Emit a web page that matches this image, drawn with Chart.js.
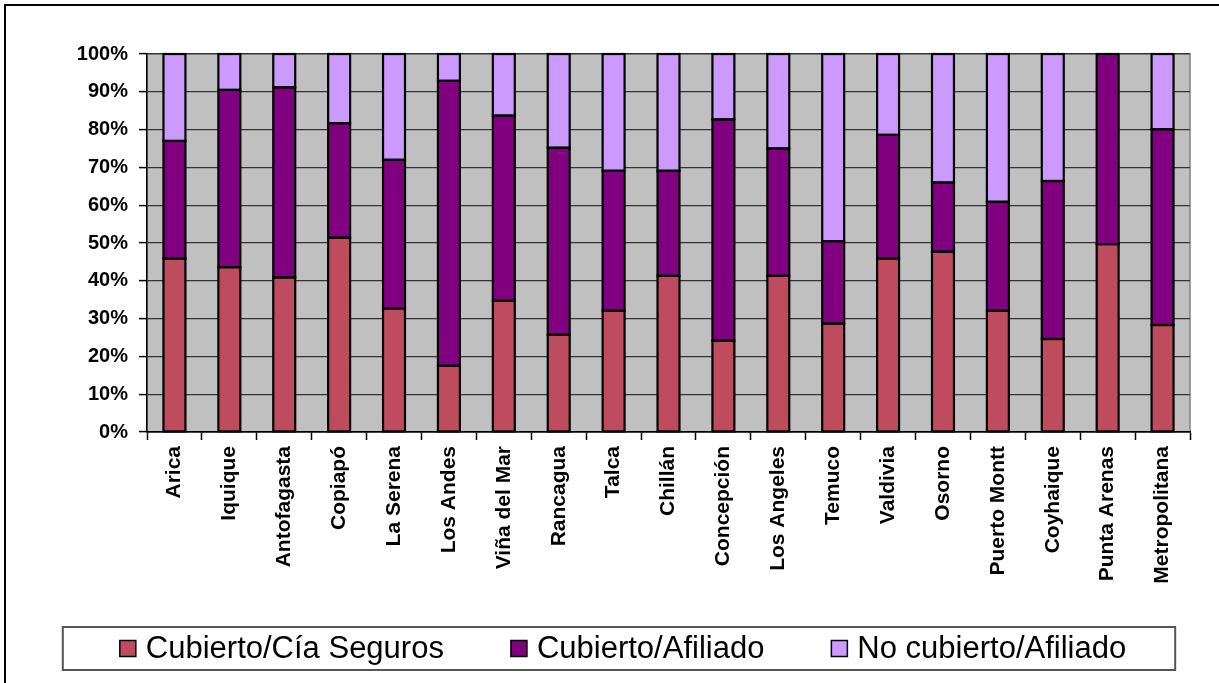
<!DOCTYPE html>
<html>
<head>
<meta charset="utf-8">
<script src="https://cdn.jsdelivr.net/npm/chart.js@4.4.1/dist/chart.umd.min.js"></script>
<style>
  html, body { margin: 0; padding: 0; background: #fff; }
  #wrap { width: 1219px; height: 683px; }
</style>
</head>
<body>
<div id="wrap"><canvas id="coberturaChart" width="1219" height="683"></canvas></div>
<script>
const ciudades = ['Arica', 'Iquique', 'Antofagasta', 'Copiapó', 'La Serena', 'Los Andes', 'Viña del Mar',
  'Rancagua', 'Talca', 'Chillán', 'Concepción', 'Los Angeles', 'Temuco', 'Valdivia', 'Osorno',
  'Puerto Montt', 'Coyhaique', 'Punta Arenas', 'Metropolitana'];

// percent of each bar
const cubiertoCia = [45.9, 43.6, 40.9, 51.4, 32.7, 17.5, 34.7, 25.7, 32.1, 41.3, 24.2, 41.3, 28.7, 45.9, 47.7, 32.1, 24.6, 49.7, 28.3];
const cubiertoAfiliado = [31.1, 46.9, 50.3, 30.3, 39.3, 75.4, 49.0, 49.5, 37.0, 27.8, 58.5, 33.7, 21.8, 32.7, 18.3, 28.8, 41.8, 50.3, 51.8];
const noCubierto = [23.0, 9.5, 8.8, 18.3, 28.0, 7.1, 16.3, 24.8, 30.9, 30.9, 17.3, 25.0, 49.5, 21.4, 34.0, 39.1, 33.6, 0.0, 19.9];

const yTicks = [0, 10, 20, 30, 40, 50, 60, 70, 80, 90, 100];

const fontFamily = '"Liberation Sans", Arial, sans-serif';

const plotBackground = {
  id: 'plotBackground',
  beforeDraw(chart) {
    const { ctx, chartArea: a } = chart;
    ctx.save();
    ctx.fillStyle = '#fff';
    ctx.fillRect(0, 0, chart.width, chart.height);
    ctx.fillStyle = '#C0C0C0';
    ctx.fillRect(a.left, a.top, a.right - a.left, a.bottom - a.top);
    ctx.strokeStyle = '#808080';
    ctx.lineWidth = 1.5;
    ctx.strokeRect(a.left, a.top, a.right - a.left, a.bottom - a.top);
    // outer frame
    ctx.strokeStyle = '#000';
    ctx.lineWidth = 2;
    ctx.beginPath();
    ctx.moveTo(5, chart.height);
    ctx.lineTo(5, 5);
    ctx.lineTo(chart.width, 5);
    ctx.stroke();
    ctx.restore();
  },
  // black outline on every segment, centred on its edges like excel does
  afterDatasetsDraw(chart) {
    const ctx = chart.ctx;
    ctx.save();
    ctx.strokeStyle = '#000';
    ctx.lineWidth = 2.2;
    chart.data.datasets.forEach((ds, i) => {
      chart.getDatasetMeta(i).data.forEach(bar => {
        const top = Math.min(bar.y, bar.base);
        ctx.strokeRect(bar.x - bar.width / 2, top, bar.width, Math.abs(bar.base - bar.y));
      });
    });
    ctx.restore();
  }
};

// excel-like legend: one row inside a framed box under the labels
const boxLegend = {
  id: 'boxLegend',
  afterDraw(chart) {
    const ctx = chart.ctx;
    const sets = chart.data.datasets;
    const box = 16, gap = 10, itemGap = 67, cy = 648.5, cx = 623;
    ctx.save();
    ctx.font = '31px ' + fontFamily;
    const widths = sets.map(ds => ctx.measureText(ds.label).width);
    const total = widths.reduce((s, w) => s + w + box + gap, 0) + itemGap * (sets.length - 1);
    let x = cx - total / 2;
    const start = x;
    ctx.textBaseline = 'middle';
    ctx.textAlign = 'left';
    sets.forEach((ds, i) => {
      ctx.fillStyle = ds.backgroundColor;
      ctx.fillRect(x, cy - box / 2, box, box);
      ctx.strokeStyle = '#000';
      ctx.lineWidth = 1.5;
      ctx.strokeRect(x, cy - box / 2, box, box);
      ctx.fillStyle = '#000';
      ctx.fillText(ds.label, x + box + gap, cy + 1);
      x += box + gap + widths[i] + itemGap;
    });
    const end = x - itemGap;
    ctx.strokeStyle = '#555';
    ctx.lineWidth = 2;
    ctx.strokeRect(start - 57, cy - 21.5, (end + 49) - (start - 57), 43);
    ctx.restore();
  }
};

new Chart(document.getElementById('coberturaChart'), {
  type: 'bar',
  data: {
    labels: ciudades,
    datasets: [{
      label: 'Cubierto/Cía Seguros',
      data: cubiertoCia,
      backgroundColor: '#BE4B5E',
    }, {
      label: 'Cubierto/Afiliado',
      data: cubiertoAfiliado,
      backgroundColor: '#800080',
    }, {
      label: 'No cubierto/Afiliado',
      data: noCubierto,
      backgroundColor: '#CC99FF',
    }]
  },
  options: {
    responsive: false,
    animation: false,
    layout: { padding: { left: 57, right: 29, top: 54, bottom: 86 } },
    datasets: {
      bar: {
        borderWidth: 0,
        inflateAmount: 0,
        barPercentage: 0.4,
        categoryPercentage: 1.0
      }
    },
    scales: {
      x: {
        stacked: true,
        afterFit: (scale) => { scale.height = 165; },
        grid: { display: true, drawOnChartArea: false, tickLength: 8, tickColor: '#000', tickWidth: 1.5, offset: true },
        border: { color: '#000', width: 1.5 },
        ticks: {
          autoSkip: false, maxRotation: 90, minRotation: 90, padding: 6,
          color: '#000', font: { family: fontFamily, size: 21, weight: 'bold' }
        }
      },
      y: {
        stacked: true,
        min: 0,
        max: 100,
        afterFit: (scale) => { scale.width = 90; },
        afterBuildTicks: (scale) => { scale.ticks = yTicks.map(v => ({ value: v })); },
        grid: { color: '#333', lineWidth: 1.2, tickLength: 8, tickColor: '#000', tickWidth: 1.5 },
        border: { color: '#000', width: 1.5 },
        ticks: {
          padding: 11, color: '#000',
          font: { family: fontFamily, size: 20, weight: 'bold' },
          callback: (v) => v + '%'
        }
      }
    },
    plugins: {
      tooltip: { enabled: false },
      legend: { display: false }
    }
  },
  plugins: [plotBackground, boxLegend]
});
</script>
</body>
</html>
